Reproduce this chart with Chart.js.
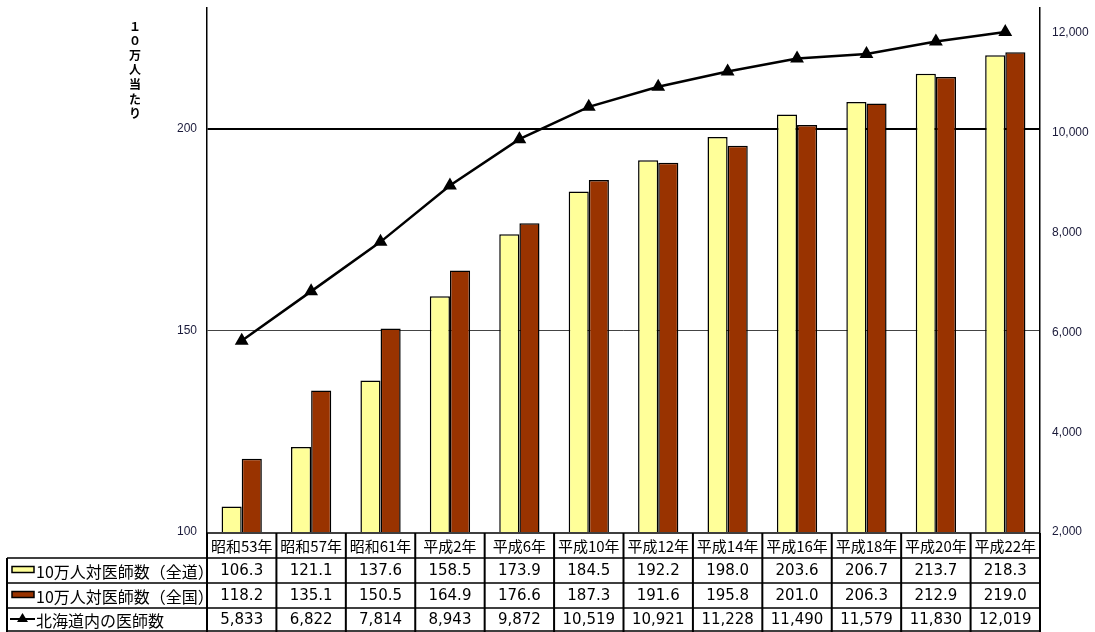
<!DOCTYPE html>
<html><head><meta charset="utf-8">
<script src="https://cdn.jsdelivr.net/npm/chart.js@4"></script>
<style>html,body{margin:0;padding:0;background:#fff}canvas{display:block}</style>
</head><body>
<canvas id="c" width="1095" height="632"></canvas>
<script>
const categories = ["昭和53年","昭和57年","昭和61年","平成2年","平成6年","平成10年","平成12年","平成14年","平成16年","平成18年","平成20年","平成22年"];
const perHokkaido = [106.3,121.1,137.6,158.5,173.9,184.5,192.2,198.0,203.6,206.7,213.7,218.3];
const perNation = [118.2,135.1,150.5,164.9,176.6,187.3,191.6,195.8,201.0,206.3,212.9,219.0];
const doctors = [5833,6822,7814,8943,9872,10519,10921,11228,11490,11579,11830,12019];
const seriesLabels = ["10万人対医師数（全道）","10万人対医師数（全国）","北海道内の医師数"];
const axisTitle = "１０万人当たり";
const leftTicks = [100,150,200];
const rightTicks = [2000,4000,6000,8000,10000,12000];
const perDisplay = ["106.3","121.1","137.6","158.5","173.9","184.5","192.2","198.0","203.6","206.7","213.7","218.3"];
const natDisplay = ["118.2","135.1","150.5","164.9","176.6","187.3","191.6","195.8","201.0","206.3","212.9","219.0"];

const JP = "'Noto Sans CJK JP', 'Noto Sans', sans-serif";
const NUM = "'DejaVu Sans', 'Noto Sans', sans-serif";

const tablePlugin = {
  id: 'tablePlugin',
  afterDraw(chart) {
    const ctx = chart.ctx;
    const x = chart.scales.x;
    const area = chart.chartArea;
    const n = categories.length;
    const cw = (area.right - area.left) / n;
    const rows = [533, 558, 583, 608, 632];
    const leftX = 7;
    ctx.save();
    ctx.strokeStyle = '#000';
    ctx.lineWidth = 1.5;
    ctx.beginPath();
    ctx.moveTo(area.left, rows[0]); ctx.lineTo(area.right, rows[0]);
    for (let i = 1; i < rows.length - 1; i++) {
      ctx.moveTo(leftX, rows[i]); ctx.lineTo(area.right, rows[i]);
    }
    ctx.moveTo(leftX, 631); ctx.lineTo(area.right, 631);
    ctx.stroke();
    ctx.lineWidth = 2;
    ctx.beginPath();
    ctx.moveTo(leftX, rows[1]); ctx.lineTo(leftX, 632);
    for (let i = 0; i <= n; i++) {
      const xx = area.left + i * cw;
      ctx.moveTo(xx, rows[0]); ctx.lineTo(xx, 632);
    }
    ctx.stroke();
    ctx.fillStyle = '#000';
    ctx.textAlign = 'center';
    ctx.textBaseline = 'middle';
    const rowsData = [categories, perDisplay, natDisplay, doctors.map(v => v.toLocaleString('en-US'))];
    for (let r = 0; r < 4; r++) {
      ctx.font = r === 0 ? '15px ' + JP : '15px ' + NUM;
      const cy = (rows[r] + rows[r + 1]) / 2 + (r === 0 ? 1 : 0.5);
      for (let i = 0; i < n; i++) {
        const cx = x.getPixelForValue(i);
        ctx.fillText(rowsData[r][i], cx, cy);
      }
    }
    ctx.textAlign = 'left';
    ctx.font = '16px ' + JP;
    for (let r = 1; r <= 3; r++) {
      const cy = (rows[r] + rows[r + 1]) / 2 + 1;
      ctx.fillText(seriesLabels[r - 1], 36, cy);
    }
    const icon = (fill, r) => {
      const cy = (rows[r] + rows[r + 1]) / 2;
      ctx.fillStyle = fill;
      ctx.fillRect(12, cy - 4, 22, 6);
      ctx.strokeStyle = '#000';
      ctx.lineWidth = 1.5;
      ctx.strokeRect(12, cy - 4, 22, 6);
    };
    icon('#FFFF99', 1);
    icon('#993300', 2);
    const cy3 = (rows[3] + rows[4]) / 2 - 1;
    ctx.strokeStyle = '#000';
    ctx.lineWidth = 2;
    ctx.beginPath(); ctx.moveTo(10, cy3); ctx.lineTo(35, cy3); ctx.stroke();
    ctx.fillStyle = '#000';
    ctx.beginPath(); ctx.moveTo(22.5, cy3 - 6); ctx.lineTo(28, cy3 + 3); ctx.lineTo(17, cy3 + 3); ctx.closePath(); ctx.fill();
    ctx.font = 'bold 12px ' + JP;
    ctx.textAlign = 'center';
    Array.from(axisTitle).forEach((ch, i) => ctx.fillText(ch, 135, 26 + i * 14.6));
    ctx.restore();
  }
};

const noPad = s => { s.paddingTop = 0; s.paddingBottom = 0; };

new Chart(document.getElementById('c'), {
  type: 'bar',
  data: {
    labels: categories,
    datasets: [
      { type: 'line', label: seriesLabels[2], data: doctors, yAxisID: 'y1', order: 0,
        borderColor: '#000', backgroundColor: '#000', borderWidth: 2.5,
        pointStyle: 'triangle', pointRadius: 5.5, pointBackgroundColor: '#000', pointBorderColor: '#000',
        tension: 0 },
      { label: seriesLabels[0], data: perHokkaido, yAxisID: 'y', order: 1,
        backgroundColor: '#FFFF99', borderColor: '#000', borderWidth: 1.5,
        categoryPercentage: 0.58, barPercentage: 1.0 },
      { label: seriesLabels[1], data: perNation, yAxisID: 'y', order: 1,
        backgroundColor: '#993300', borderColor: '#000', borderWidth: 1.5,
        categoryPercentage: 0.58, barPercentage: 1.0 }
    ]
  },
  options: {
    responsive: false,
    animation: false,
    devicePixelRatio: 1,
    layout: { padding: { top: 6, left: 0, right: 0, bottom: 0 } },
    plugins: { legend: { display: false }, tooltip: { enabled: false } },
    scales: {
      x: {
        grid: { display: false },
        border: { display: false },
        ticks: { display: false },
        afterFit(s) { s.height = 100; }
      },
      y: {
        position: 'left', min: 100, max: 230,
        afterBuildTicks(s) { s.ticks = leftTicks.map(v => ({ value: v })); },
        ticks: { color: '#1a1a3a', padding: 10,
                 font: { family: "'Liberation Sans', Arial, sans-serif", size: 12 } },
        grid: {
          drawTicks: false,
          color: c => c.tick && c.tick.value === 100 ? 'rgba(0,0,0,0)' : (c.tick && c.tick.value === 200 ? '#000' : '#444'),
          lineWidth: c => c.tick && c.tick.value === 200 ? 2 : 1
        },
        border: { display: true, color: '#000', width: 1.5 },
        afterFit(s) { s.width = 207; noPad(s); }
      },
      y1: {
        position: 'right', min: 2000, max: 12500,
        afterBuildTicks(s) { s.ticks = rightTicks.map(v => ({ value: v })); },
        ticks: { color: '#1a1a3a', padding: 12,
                 font: { family: "'Liberation Sans', Arial, sans-serif", size: 12 },
                 callback: v => v.toLocaleString('en-US') },
        grid: { display: false, drawTicks: false },
        border: { display: true, color: '#000', width: 1.5 },
        afterFit(s) { s.width = 55; noPad(s); }
      }
    }
  },
  plugins: [tablePlugin]
});
</script>
</body></html>
